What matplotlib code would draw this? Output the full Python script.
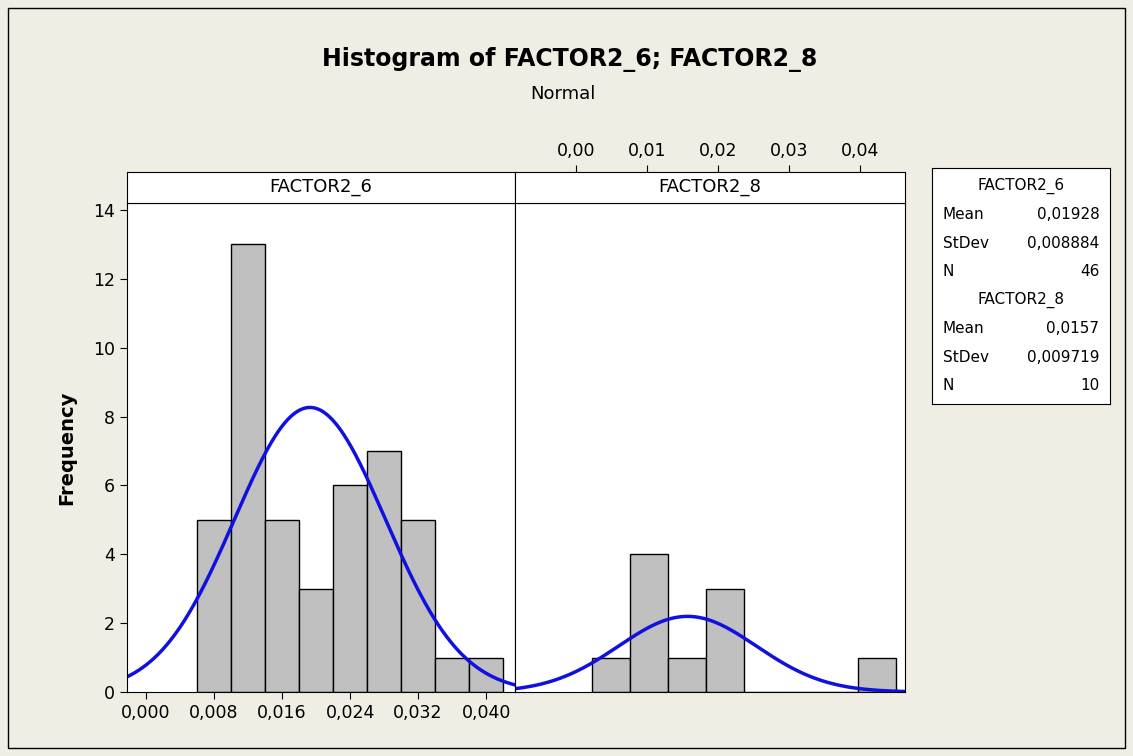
import numpy as np
import matplotlib
matplotlib.use("Agg")
import matplotlib.pyplot as plt
from matplotlib.patches import Rectangle
from matplotlib.ticker import FuncFormatter

# data
left_centers = [0.008, 0.012, 0.016, 0.020, 0.024, 0.028, 0.032, 0.036, 0.040]
left_counts = [5, 13, 5, 3, 6, 7, 5, 1, 1]
left_width = 0.004
right_centers = [0.0049, 0.01025, 0.0156, 0.02095, 0.0263, 0.03165, 0.037, 0.04235]
right_counts = [1, 4, 1, 3, 0, 0, 0, 1]
right_width = 0.00535
stats = {"FACTOR2_6": (0.01928, 0.008884, 46), "FACTOR2_8": (0.0157, 0.009719, 10)}

W, H = 1133, 756
bg = "#F0EDE4"
fig = plt.figure(figsize=(W / 100, H / 100), dpi=100, facecolor=bg)
plt.rcParams['font.family'] = ['DejaVu Sans']


def box(x0, y0, x1, y1):
    return [x0 / W, 1 - y1 / H, (x1 - x0) / W, (y1 - y0) / H]


def comma(fmt):
    return FuncFormatter(lambda v, p: (fmt % v).replace('.', ','))


fig.patches.append(Rectangle((8 / W, 8 / H), 1117 / W, 740 / H, transform=fig.transFigure,
                             fill=False, edgecolor="black", lw=1))

panels = [
    ("FACTOR2_6", left_centers, left_counts, left_width, 127, 515, (-0.00224, 0.0434)),
    ("FACTOR2_8", right_centers, right_counts, right_width, 515, 905, (-0.0086, 0.04634)),
]
for i, (name, cen, cnt, bw, x0, x1, xl) in enumerate(panels):
    ax = fig.add_axes(box(x0, 203, x1, 692))
    ax.bar(cen, cnt, width=bw, color="#C0C0C0", edgecolor="black", lw=1)
    mu, sd, n = stats[name]
    xs = np.linspace(xl[0], xl[1], 400)
    ax.plot(xs, n * bw / (sd * np.sqrt(2 * np.pi)) * np.exp(-0.5 * ((xs - mu) / sd) ** 2),
            color="#1010E0", lw=2.5)
    ax.set_xlim(xl)
    ax.set_ylim(0, 14.2)
    ax.tick_params(labelsize=12.5, length=5)
    strip = fig.add_axes(box(x0, 172, x1, 203))
    strip.set_xlim(xl)
    strip.set_yticks([])
    strip.text(0.5, 0.5, name, ha="center", va="center", fontsize=13, transform=strip.transAxes)
    if i == 0:
        ax.set_xticks([0.0, 0.008, 0.016, 0.024, 0.032, 0.040])
        ax.xaxis.set_major_formatter(comma("%.3f"))
        ax.set_yticks(range(0, 15, 2))
        ax.set_ylabel("Frequency", fontsize=14, fontweight="bold", labelpad=12)
        strip.set_xticks([])
    else:
        ax.set_yticks([])
        ax.set_xticks([])
        strip.set_xticks([0.0, 0.01, 0.02, 0.03, 0.04])
        strip.xaxis.set_major_formatter(comma("%.2f"))
        strip.xaxis.tick_top()
        strip.tick_params(labelsize=12.5, length=5)

fig.text(570 / W, 1 - 60 / H, "Histogram of FACTOR2_6; FACTOR2_8", ha="center", va="center",
         fontsize=17, fontweight="bold")
fig.text(563 / W, 1 - 94 / H, "Normal", ha="center", va="center", fontsize=13)

lg = fig.add_axes(box(932, 168, 1110, 404))
lg.set_xticks([])
lg.set_yticks([])
lg.set_xlim(0, 1)
lg.set_ylim(236, 0)
rows = []
for name, (mu, sd, n) in stats.items():
    rows.append((name, None))
    rows.append(("Mean", ("%g" % mu).replace('.', ',')))
    rows.append(("StDev", ("%g" % sd).replace('.', ',')))
    rows.append(("N", str(n)))
for k, (a, b) in enumerate(rows):
    y = 18 + k * 28.5
    if b is None:
        lg.text(0.5, y, a, ha="center", va="center", fontsize=11)
    else:
        lg.text(0.06, y, a, ha="left", va="center", fontsize=11)
        lg.text(0.94, y, b, ha="right", va="center", fontsize=11)

fig.savefig("out.png", dpi=100, facecolor=bg)
